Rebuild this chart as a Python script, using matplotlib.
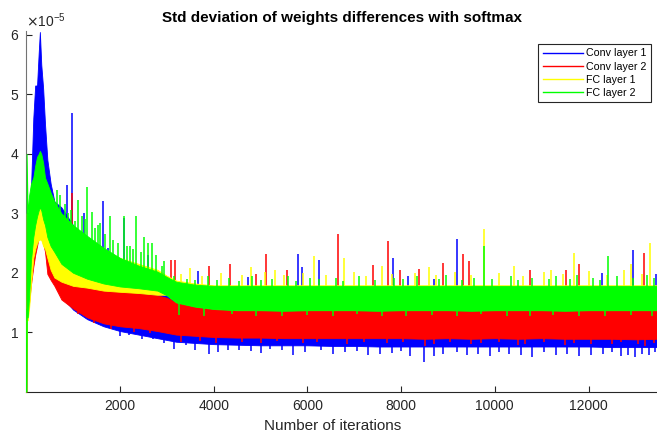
import numpy as np
import matplotlib
matplotlib.use("Agg")
import matplotlib.pyplot as plt

plt.rcParams['font.family'] = ['Liberation Sans', 'DejaVu Sans']

# iteration knots where the band edges were read (values in units of 1e-5)
iters = [0, 8, 30, 60, 100, 150, 190, 230, 265, 290,
         320, 360, 400, 450, 520, 600, 750, 1000, 1300, 1650,
         2000, 2400, 2800, 3000, 3200, 3600, 4000, 4500, 5000, 5500,
         6000, 6500, 7000, 7500, 8000, 8500, 9000, 9500, 10000, 10500,
         11000, 11500, 12000, 12500, 13000, 13462]

conv1_lo = [0, 1.4, 1.6, 1.9, 2.2, 2.5, 2.7, 2.8, 2.9, 2.9,
            2.8, 2.6, 2.4, 2.2, 2.0, 1.85, 1.6, 1.38, 1.22, 1.1,
            1.02, 0.96, 0.9, 0.87, 0.84, 0.82, 0.8, 0.79, 0.78, 0.78,
            0.78, 0.77, 0.77, 0.76, 0.76, 0.76, 0.76, 0.76, 0.76, 0.76,
            0.76, 0.76, 0.76, 0.75, 0.75, 0.75]
conv1_hi = [0, 2.0, 2.6, 2.9, 3.4, 4.6, 5.15, 5.15, 5.7, 6.05,
            5.5, 5.1, 4.5, 3.9, 3.5, 3.2, 3.1, 2.8, 2.55, 2.3,
            2.1, 1.95, 1.85, 1.7, 1.5, 1.42, 1.36, 1.34, 1.32, 1.33,
            1.3, 1.32, 1.3, 1.3, 1.32, 1.3, 1.3, 1.3, 1.3, 1.32,
            1.3, 1.3, 1.3, 1.3, 1.3, 1.3]

conv2_lo = [0, 1.3, 1.3, 1.5, 1.8, 2.1, 2.3, 2.45, 2.6, 2.65,
            2.6, 2.5, 2.35, 1.98, 1.88, 1.78, 1.55, 1.4, 1.25, 1.15,
            1.1, 1.07, 1.02, 0.99, 0.96, 0.94, 0.92, 0.91, 0.91, 0.9,
            0.9, 0.9, 0.9, 0.9, 0.9, 0.89, 0.9, 0.89, 0.9, 0.89,
            0.9, 0.89, 0.89, 0.89, 0.88, 0.89]
conv2_hi = [0, 2.0, 2.2, 2.4, 2.6, 3.0, 3.2, 3.3, 3.5, 3.6,
            3.4, 3.2, 3.0, 2.8, 2.6, 2.5, 2.2, 2.0, 1.85, 1.78,
            1.72, 1.66, 1.62, 1.58, 1.5, 1.45, 1.42, 1.42, 1.42, 1.42,
            1.42, 1.42, 1.42, 1.42, 1.42, 1.42, 1.42, 1.42, 1.42, 1.42,
            1.42, 1.42, 1.42, 1.42, 1.42, 1.42]

fc1_lo = [0, 1.2, 1.2, 1.4, 1.8, 2.25, 2.4, 2.5, 2.55, 2.56,
          2.55, 2.45, 2.4, 2.25, 2.05, 1.92, 1.85, 1.78, 1.75, 1.7,
          1.68, 1.66, 1.63, 1.63, 1.51, 1.44, 1.4, 1.38, 1.38, 1.38,
          1.38, 1.38, 1.38, 1.38, 1.38, 1.38, 1.38, 1.38, 1.38, 1.38,
          1.38, 1.38, 1.38, 1.38, 1.38, 1.38]
fc1_hi = [0, 3.0, 2.6, 2.8, 2.9, 3.0, 3.1, 3.15, 3.25, 3.3,
          3.25, 3.15, 3.1, 3.0, 2.95, 2.9, 2.8, 2.7, 2.55, 2.4,
          2.25, 2.15, 2.05, 1.95, 1.87, 1.82, 1.79, 1.79, 1.79, 1.79,
          1.79, 1.79, 1.79, 1.79, 1.79, 1.79, 1.79, 1.79, 1.79, 1.79,
          1.79, 1.79, 1.79, 1.79, 1.79, 1.79]

fc2_lo = [0, 1.4, 1.25, 1.6, 2.2, 2.6, 2.8, 2.95, 3.05, 3.1,
          3.05, 2.9, 2.8, 2.6, 2.45, 2.35, 2.15, 2.0, 1.9, 1.82,
          1.77, 1.74, 1.7, 1.62, 1.5, 1.43, 1.39, 1.37, 1.37, 1.36,
          1.37, 1.37, 1.37, 1.36, 1.37, 1.37, 1.37, 1.36, 1.37, 1.37,
          1.37, 1.36, 1.37, 1.37, 1.37, 1.37]
fc2_hi = [0, 4.0, 3.0, 3.3, 3.5, 3.6, 3.8, 3.95, 4.0, 4.05,
          4.0, 3.85, 3.6, 3.5, 3.35, 3.2, 3.0, 2.8, 2.62, 2.42,
          2.25, 2.12, 2.02, 1.93, 1.85, 1.8, 1.78, 1.78, 1.78, 1.78,
          1.78, 1.78, 1.78, 1.78, 1.78, 1.78, 1.78, 1.78, 1.78, 1.78,
          1.78, 1.78, 1.78, 1.78, 1.78, 1.78]

# spikes above and dips below the bands
conv1_spike_it = [870, 983, 1230, 1630, 1750, 2092, 2600, 3670, 4730, 5800, 5890, 6240,
                  7827, 8140, 8694, 9186, 12289, 12950, 13450]
conv1_spike_val = [3.48, 4.69, 3.0, 3.2, 2.42, 2.92, 2.3, 2.03, 1.93, 2.31, 2.09, 2.22,
                   2.25, 1.95, 1.9, 2.56, 2.0, 2.39, 1.98]
conv1_dip_it = [2000, 2200, 2480, 2700, 2950, 3150, 3400, 3600, 3900, 4100, 4300, 4550,
                4800, 5000, 5200, 5450, 5700, 5950, 6300, 6550, 6800, 7050, 7300, 7550,
                7800, 8000, 8200, 8486, 8700, 8900, 9200, 9400, 9650, 9900, 10100, 10300,
                10550, 10800, 11050, 11300, 11550, 11800, 12050, 12300, 12500, 12700,
                12850, 13000, 13150, 13300, 13420]
conv1_dip_val = [0.93, 0.96, 0.88, 0.88, 0.82, 0.72, 0.78, 0.7, 0.63, 0.66, 0.7, 0.7,
                 0.68, 0.65, 0.72, 0.7, 0.62, 0.66, 0.7, 0.64, 0.66, 0.68, 0.62, 0.64,
                 0.65, 0.68, 0.6, 0.5, 0.6, 0.63, 0.66, 0.62, 0.64, 0.6, 0.66, 0.64,
                 0.62, 0.58, 0.66, 0.62, 0.64, 0.6, 0.62, 0.63, 0.66, 0.6,
                 0.62, 0.58, 0.64, 0.62, 0.66]

conv2_spike_it = [983, 3090, 3175, 3910, 4355, 4910, 5125, 5560, 6660, 7407, 7720, 7977,
                  8389, 8887, 9314, 9442, 10744, 11527, 11798, 13178]
conv2_spike_val = [3.35, 2.21, 2.21, 2.11, 2.14, 1.98, 2.31, 2.04, 2.66, 2.13, 2.53, 2.05,
                   2.07, 2.17, 2.32, 2.2, 2.04, 2.05, 2.14, 2.34]
conv2_dip_it = [1100, 1450, 1800, 2300, 2650, 3300, 3700, 4050, 4600, 5000, 5350, 5900,
                6200, 6850, 7200, 7700, 8050, 8500, 8700, 9050, 9500, 9700, 10100, 10500,
                10650, 11050, 11500, 11700, 12050, 12500, 12700, 13050, 13200, 13400]
conv2_dip_val = [1.3, 1.15, 1.05, 1.0, 0.98, 0.84, 0.86, 0.82, 0.84, 0.82, 0.85, 0.82,
                 0.84, 0.8, 0.83, 0.82, 0.84, 0.77, 0.8, 0.83, 0.8, 0.82, 0.84, 0.78,
                 0.8, 0.83, 0.79, 0.82, 0.8, 0.8, 0.83, 0.8, 0.77, 0.82]

fc1_spike_it = [3300, 3500, 3750, 4150, 4600, 4800, 5100, 5300, 5500, 5900, 6150, 6400,
                6781, 7000, 7250, 7600, 7800, 8300, 8600, 8750, 9150, 9500, 9769, 10100,
                10400, 10600, 11050, 11200, 11450, 11684, 12000, 12400, 12750, 12907,
                13150, 13306]
fc1_spike_val = [1.98, 2.08, 1.95, 2.0, 1.96, 2.1, 2.02, 2.05, 1.97, 2.0, 2.28, 1.96,
                 2.25, 2.02, 1.95, 2.12, 1.98, 2.0, 2.1, 1.96, 2.02, 1.97, 2.73, 2.0,
                 2.12, 1.95, 2.02, 2.05, 1.98, 2.33, 2.03, 1.97, 2.05, 2.15,
                 1.98, 2.5]

fc2_spike_it = [650, 720, 820, 895, 960, 1040, 1110, 1180, 1250, 1289, 1395, 1470, 1530,
                1573, 1690, 1787, 1860, 1950, 2092, 2150, 2215, 2280, 2335, 2450, 2520,
                2590, 2675, 2760, 2890, 2950, 3150, 3420, 3600, 3880, 4080, 4320, 4550,
                4820, 5000, 5250, 5580, 5750, 6050, 6250, 6600, 6750, 7100, 7450, 7850,
                8050, 8350, 8800, 8950, 9300, 9550, 9769, 9950, 10350, 10500, 10800,
                11150, 11300, 11600, 11750, 12100, 12250, 12410, 12600, 12950, 13250, 13400]
fc2_spike_val = [3.4, 3.3, 3.15, 3.0, 3.05, 2.87, 3.23, 2.95, 2.9, 3.45, 3.03, 2.75, 2.8,
                 2.84, 2.65, 2.95, 2.55, 2.5, 2.95, 2.45, 2.45, 2.4, 2.95, 2.35, 2.6,
                 2.5, 2.5, 2.3, 2.11, 2.2, 1.95, 1.9, 1.88, 1.94, 1.88, 1.92, 1.86,
                 1.95, 1.88, 1.9, 1.94, 1.87, 1.92, 1.89, 1.92, 1.87, 1.95, 1.88, 1.92,
                 1.89, 1.94, 1.9, 1.96, 1.88, 1.92, 2.45, 1.9, 1.94, 1.88, 1.92,
                 1.9, 1.95, 1.89, 1.97, 1.92, 1.88, 2.28, 1.94, 1.92, 1.97, 1.92]
fc2_dip_it = [3250, 3800, 4400, 4900, 5450, 6000, 6550, 7050, 7600, 8100, 8650, 9200,
              9700, 10250, 10750, 11250, 11800, 12350, 12900, 13350]
fc2_dip_val = [1.29, 1.27, 1.3, 1.28, 1.27, 1.29, 1.27, 1.3, 1.28, 1.27, 1.29, 1.27,
               1.3, 1.28, 1.27, 1.29, 1.28, 1.27, 1.29, 1.27]

labels = ['Conv layer 1', 'Conv layer 2', 'FC layer 1', 'FC layer 2']
colors = ['#0000ff', '#ff0000', '#ffff00', '#00ff00']
scale = 1e-5

fig = plt.figure(figsize=(6.57, 4.32), dpi=100)
ax = fig.add_axes([0.040, 0.0933, 0.960, 0.834])

series = [(conv1_lo, conv1_hi, conv1_spike_it + conv1_dip_it, conv1_spike_val + conv1_dip_val),
          (conv2_lo, conv2_hi, conv2_spike_it + conv2_dip_it, conv2_spike_val + conv2_dip_val),
          (fc1_lo, fc1_hi, fc1_spike_it, fc1_spike_val),
          (fc2_lo, fc2_hi, fc2_spike_it + fc2_dip_it, fc2_spike_val + fc2_dip_val)]

x = np.array(iters)
for k, (lo, hi, ext_it, ext_val) in enumerate(series):
    lo = np.array(lo) * scale
    hi = np.array(hi) * scale
    ax.fill_between(x, lo, hi, color=colors[k], lw=0.6, edgecolor=colors[k], zorder=2 + k)
    mid = np.interp(ext_it, x, (lo + hi) / 2)
    ax.vlines(ext_it, mid, np.array(ext_val) * scale, color=colors[k], lw=1.1, zorder=2 + k)
    ax.plot([], [], color=colors[k], lw=1.0, label=labels[k])

ax.set_xlim(0, 13462)
ax.set_ylim(0, 6.06e-5)
ax.set_xticks([2000, 4000, 6000, 8000, 10000, 12000])
ax.set_yticks([1e-5, 2e-5, 3e-5, 4e-5, 5e-5, 6e-5])
ax.ticklabel_format(style='sci', axis='y', scilimits=(0, 0), useMathText=True)
ax.yaxis.get_offset_text().set_fontsize(10)
ax.yaxis.get_offset_text().set_color('0.15')

for s in ['top', 'right']:
    ax.spines[s].set_visible(False)
ax.spines['left'].set_color('0.45')
ax.spines['bottom'].set_color('0.15')
ax.tick_params(direction='in', length=4, width=0.8, colors='0.15', labelsize=10)
ax.tick_params(axis='x', pad=5)
ax.tick_params(axis='y', pad=5)

ax.set_title('Std deviation of weights differences with softmax',
             fontsize=11, fontweight='bold', pad=7)
ax.set_xlabel('Number of iterations', fontsize=11, color='0.15')
ax.xaxis.set_label_coords(0.486, -0.075)

leg = ax.legend(loc='upper right', bbox_to_anchor=(0.9905, 0.965), borderaxespad=0,
                fontsize=7.7, handlelength=3.8, handletextpad=0.3, labelspacing=0.3,
                borderpad=0.4, fancybox=False, framealpha=1, edgecolor='0.15')
leg.get_frame().set_linewidth(0.8)
leg.set_zorder(20)

fig.savefig('out.png', dpi=100)
